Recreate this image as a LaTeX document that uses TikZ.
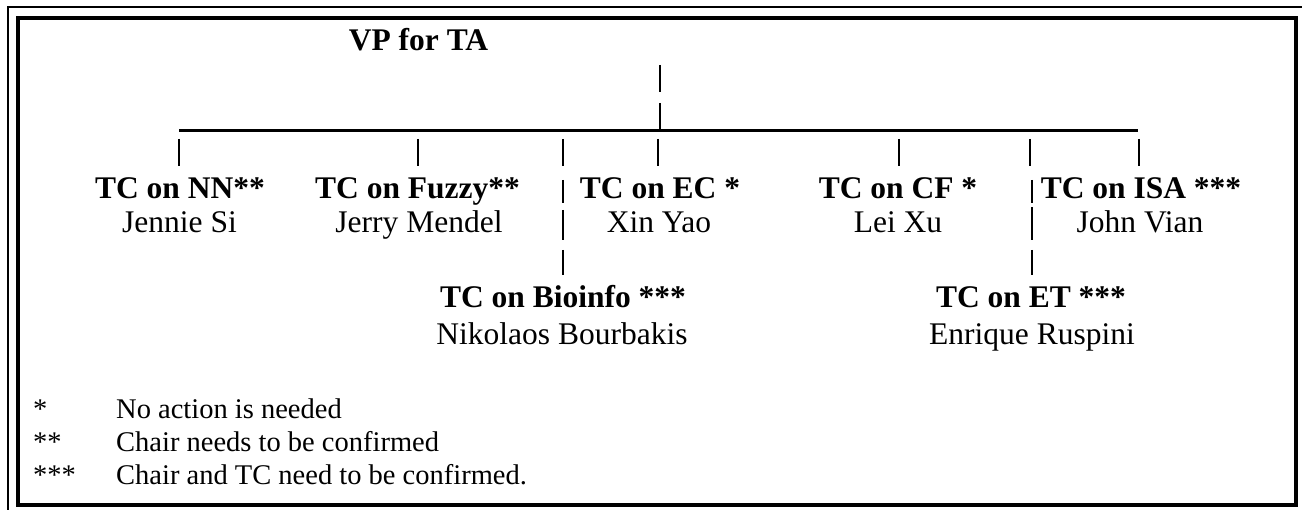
\documentclass[tikz,border=0pt]{standalone}
\usepackage{fontspec}
\setmainfont{Liberation Serif}
\usetikzlibrary{positioning}

\tikzset{
  tcbox/.style={font=\fontsize{31.5}{36}\selectfont\bfseries, inner sep=0pt, anchor=base},
  chairbox/.style={font=\fontsize{31.5}{36}\selectfont, inner sep=0pt, anchor=base},
  keybox/.style={font=\fontsize{28.5}{32}\selectfont, inner sep=0pt, anchor=base west},
  pipe/.style={line width=1.6pt},
  boldpipe/.style={line width=2.4pt},
}

\begin{document}
\begin{tikzpicture}[x=1pt,y=-1pt]
	\useasboundingbox (0,0) rectangle (1302,510);
	% frames
	\draw[line width=2pt] (1302,7.5) -- (7.5,7.5) -- (7.5,510);
	\draw[line width=4pt] (18,18.5) rectangle (1296,505);
	% head
	\node[tcbox] (vp) at (418.5,51) {VP for TA};
	\coordinate (top) at (660,65);
	\coordinate (busL) at (179,130.5);
	\coordinate (busR) at (1138,130.5);
	\draw[boldpipe] (top) -- (660,92);
	\draw[boldpipe] (660,103) -- (660,130);
	\draw[line width=3.8pt] (busL) -- (busR);
	\foreach \x in {179,418,563,658,899,1030,1139}
		\draw[boldpipe] (\x,139) -- (\x,166);
	% committees
	\node[tcbox] (nn) at (180,199) {TC on NN**};
	\node[chairbox] (nnchair) at (179.5,233) {Jennie Si};
	\node[tcbox] (fuzzy) at (417.5,199) {TC on Fuzzy**};
	\node[chairbox] (fuzzychair) at (419,233) {Jerry Mendel};
	\node[tcbox] (ec) at (660,199) {TC on EC *};
	\node[chairbox] (ecchair) at (659,233) {Xin Yao};
	\node[tcbox] (cf) at (898,199) {TC on CF *};
	\node[chairbox] (cfchair) at (898,233) {Lei Xu};
	\node[tcbox] (isa) at (1141,199) {TC on ISA ***};
	\node[chairbox] (isachair) at (1140,233) {John Vian};
	\node[tcbox] (bio) at (563,308) {TC on Bioinfo ***};
	\node[chairbox] (biochair) at (562,345) {Nikolaos Bourbakis};
	\node[tcbox] (et) at (1031,308) {TC on ET ***};
	\node[chairbox] (etchair) at (1032,345) {Enrique Ruspini};
	% broken links down to the second row
	\draw[boldpipe] (563,180) -- (563,203);
	\draw[pipe] (563,210) -- (563,240);
	\draw[pipe] (563,250) -- (563,275);
	\draw[boldpipe] (1032,180) -- (1032,203);
	\draw[pipe] (1032,207) -- (1032,240);
	\draw[pipe] (1032,250) -- (1032,275);
	% key
	\node[keybox] (star1) at (33,419) {*};
	\node[keybox] (key1) at (116,419) {No action is needed};
	\node[keybox] (star2) at (33,452) {**};
	\node[keybox] (key2) at (116,452) {Chair needs to be confirmed};
	\node[keybox] (star3) at (33,485) {***};
	\node[keybox] (key3) at (116,485) {Chair and TC need to be confirmed.};
\end{tikzpicture}
\end{document}
